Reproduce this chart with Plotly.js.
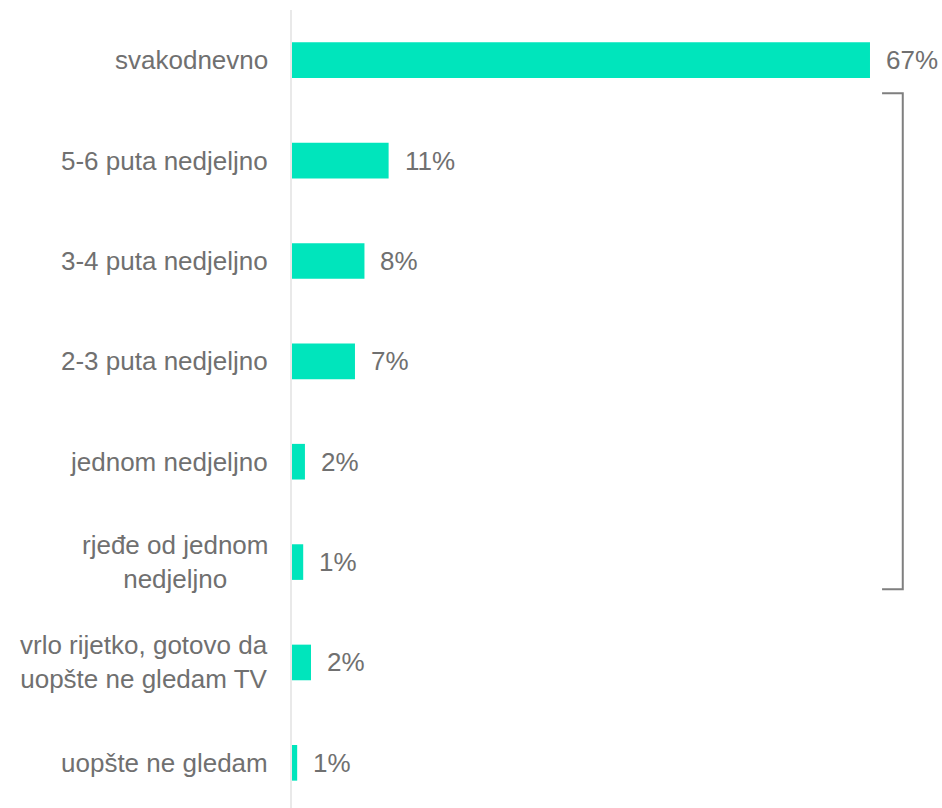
<!DOCTYPE html>
<html>
<head>
<meta charset="utf-8">
<script src="https://cdn.plot.ly/plotly-3.0.1.min.js"></script>
<style>html,body{margin:0;padding:0;background:#fff;}</style>
</head>
<body>
<div id="chart" style="width:942px;height:808px;"></div>
<script>
const categories = [
  "svakodnevno",
  "5-6 puta nedjeljno",
  "3-4 puta nedjeljno",
  "2-3 puta nedjeljno",
  "jednom nedjeljno",
  "rjeđe od jednom<br>nedjeljno",
  "vrlo rijetko, gotovo da<br>uopšte ne gledam TV",
  "uopšte ne gledam"
];
const values = [67, 11.2, 8.4, 7.3, 1.5, 1.3, 2.2, 0.6];
const valueLabels = ["67%", "11%", "8%", "7%", "2%", "1%", "2%", "1%"];
const bracketFrom = "5-6 puta nedjeljno";
const bracketTo = "rjeđe od jednom<br>nedjeljno";

const barColor = "#00E5BC";
const textColor = "#707070";
const fontFamily = "Liberation Sans, Arial, sans-serif";
const fontSize = 26;

const trace = {
  type: "bar",
  orientation: "h",
  x: values,
  y: categories,
  marker: {color: barColor},
  hoverinfo: "none"
};

const annotations = [];
categories.forEach((c, i) => {
  annotations.push({
    x: values[i], y: c, xref: "x", yref: "y",
    text: valueLabels[i], showarrow: false,
    xanchor: "left", yanchor: "middle", xshift: 14,
    font: {family: fontFamily, size: fontSize, color: textColor}
  });
  annotations.push({
    x: 0, y: c, xref: "paper", yref: "y",
    text: c, showarrow: false, align: "center",
    xanchor: "right", yanchor: "middle", xshift: -22,
    font: {family: fontFamily, size: fontSize, color: textColor}
  });
});

const iTop = categories.indexOf(bracketFrom);
const iBot = categories.indexOf(bracketTo);
const yTop = iTop - 0.67;
const yBot = iBot + 0.27;

const layout = {
  width: 942, height: 808,
  margin: {l: 292, r: 3, t: 10, b: 0},
  paper_bgcolor: "#ffffff",
  plot_bgcolor: "#ffffff",
  showlegend: false,
  bargap: 0.645,
  xaxis: {range: [0, 75], showgrid: false, zeroline: false, showline: false, showticklabels: false, ticks: ""},
  yaxis: {
    type: "category",
    range: [7.45, -0.5],
    showgrid: false, zeroline: false, showticklabels: false, ticks: "",
    showline: true, linecolor: "#e9e9e9", linewidth: 2
  },
  annotations: annotations,
  shapes: [{
    type: "path", xref: "paper", yref: "y",
    path: `M 0.912 ${yTop} L 0.944 ${yTop} L 0.944 ${yBot} L 0.912 ${yBot}`,
    line: {color: "#7f7f7f", width: 2}
  }]
};

Plotly.newPlot("chart", [trace], layout, {displayModeBar: false, staticPlot: true});
</script>
</body>
</html>
